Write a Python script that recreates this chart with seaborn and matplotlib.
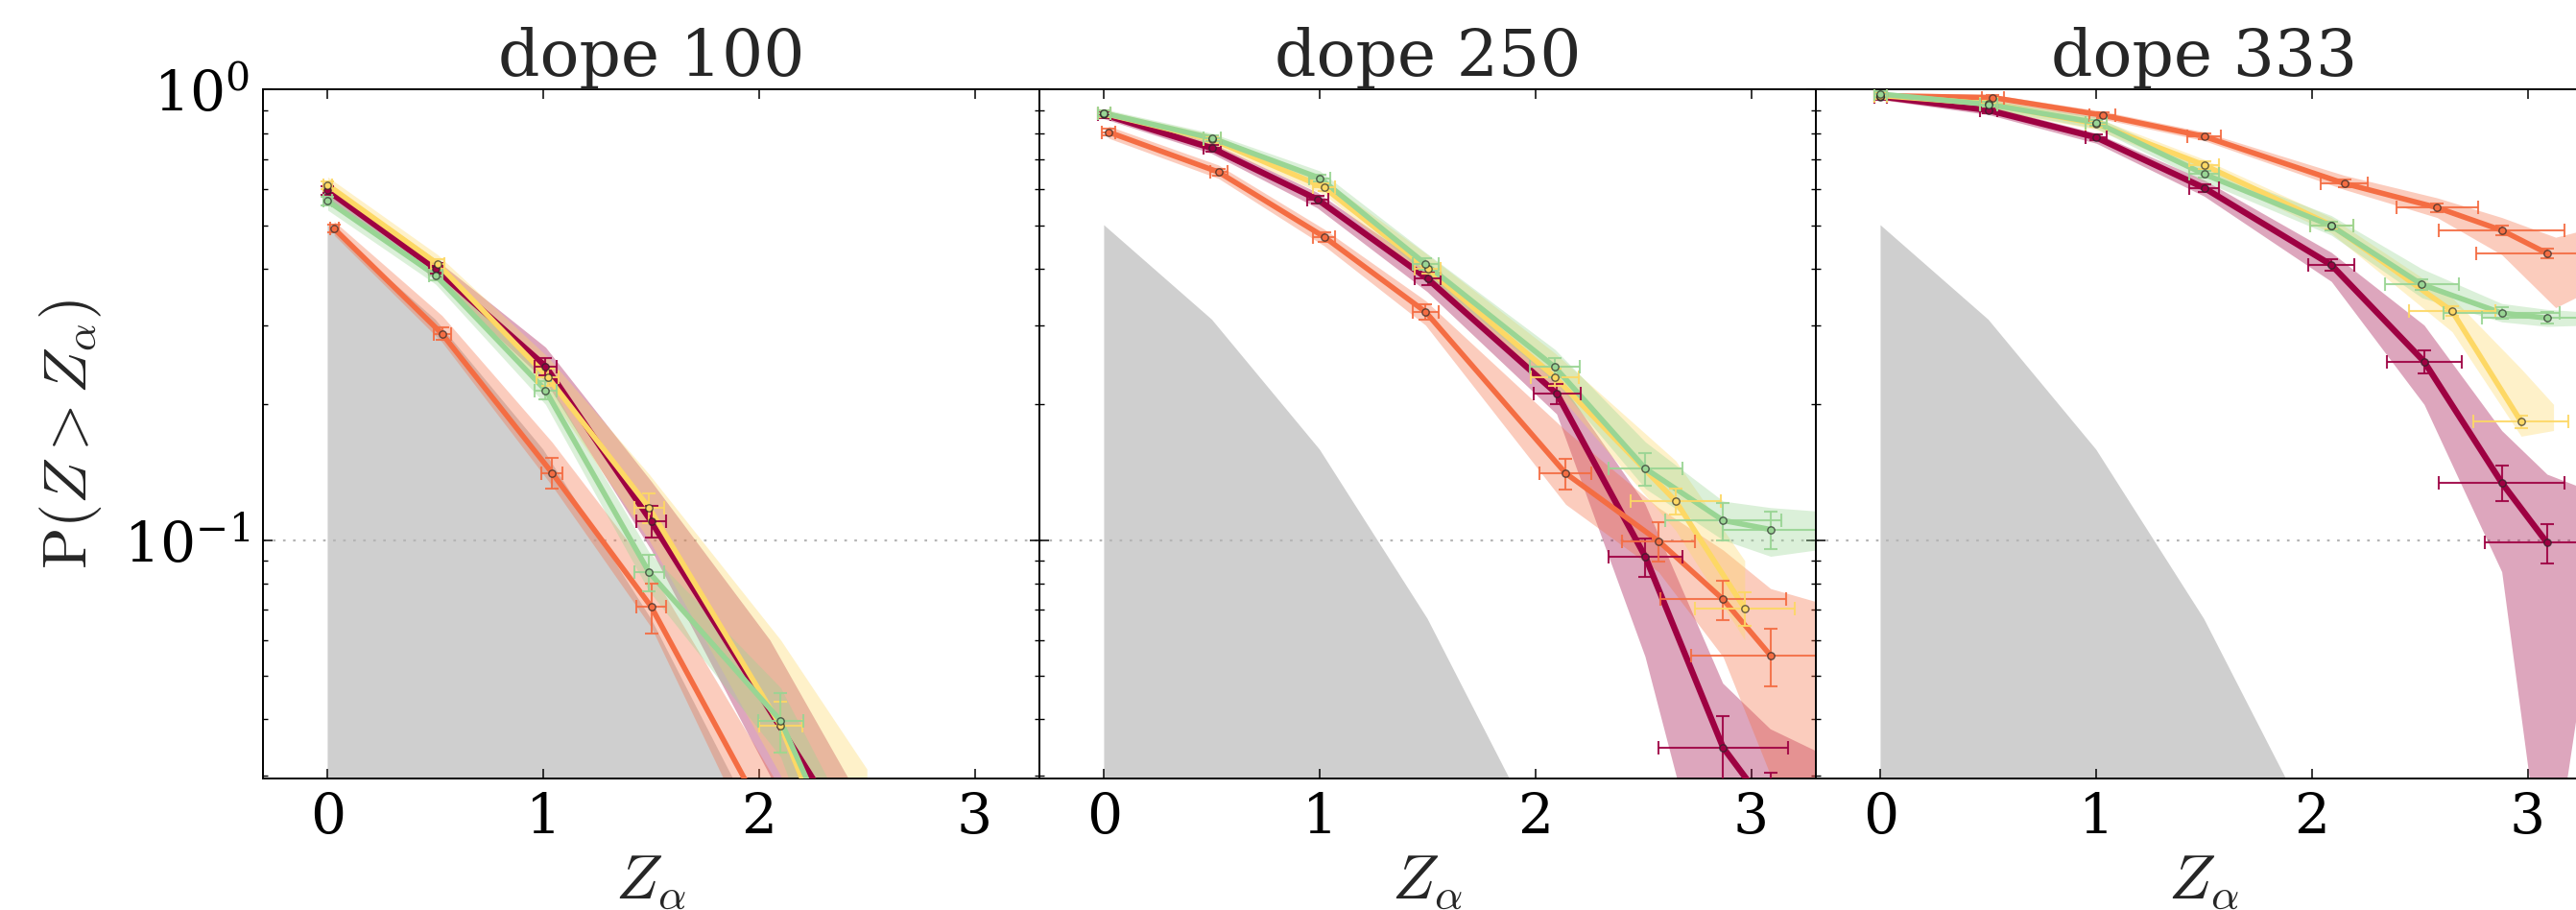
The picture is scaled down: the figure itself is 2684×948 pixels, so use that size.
import matplotlib
matplotlib.use("Agg")
import matplotlib.pyplot as plt
from matplotlib.ticker import NullFormatter, FixedLocator
import numpy as np
import pandas as pd
import seaborn as sns

# ---------------------------------------------------------------- data
PANEL_TITLES = ["dope 100", "dope 250", "dope 333"]
SERIES_COLORS = {"crimson": "#9e0142", "orange": "#f46d43",
                 "yellow": "#fdd865", "green": "#99d594"}

# standard-normal tail shown as the grey reference area
Z_NORMAL = [0.0, 0.5, 1.0, 1.5, 2.0, 2.5, 3.0]
P_NORMAL = [0.5, 0.3085, 0.1587, 0.0668, 0.0228, 0.0062, 0.00135]

# ---- dope 100
Z100_crimson = [0.00, 0.50, 1.01, 1.50, 2.50]
P100_crimson = [0.597, 0.400, 0.243, 0.110, 0.019]
ZE100_crimson = [0.02, 0.03, 0.05, 0.07, 0.15]
PE100_crimson = [0.012, 0.010, 0.011, 0.009, 0.004]
BZ100_crimson = [0.00, 0.50, 1.01, 1.50, 2.05, 2.50]
BLO100_crimson = [0.575, 0.380, 0.225, 0.095, 0.030, 0.008]
BHI100_crimson = [0.620, 0.420, 0.268, 0.135, 0.060, 0.025]

Z100_orange = [0.03, 0.53, 1.04, 1.50, 2.10]
P100_orange = [0.491, 0.287, 0.141, 0.0711, 0.021]
ZE100_orange = [0.02, 0.04, 0.05, 0.07, 0.10]
PE100_orange = [0.010, 0.009, 0.011, 0.009, 0.004]
BZ100_orange = [0.03, 0.53, 1.04, 1.50, 2.10]
BLO100_orange = [0.475, 0.275, 0.132, 0.064, 0.016]
BHI100_orange = [0.510, 0.315, 0.165, 0.085, 0.028]

Z100_yellow = [0.00, 0.51, 1.02, 1.49, 2.10, 2.50]
P100_yellow = [0.614, 0.410, 0.230, 0.118, 0.0387, 0.013]
ZE100_yellow = [0.02, 0.03, 0.05, 0.07, 0.10, 0.15]
PE100_yellow = [0.012, 0.010, 0.010, 0.009, 0.005, 0.003]
BZ100_yellow = [0.00, 0.51, 1.02, 1.49, 2.10, 2.50]
BLO100_yellow = [0.590, 0.390, 0.212, 0.100, 0.030, 0.008]
BHI100_yellow = [0.640, 0.430, 0.255, 0.140, 0.060, 0.031]

Z100_green = [0.00, 0.50, 1.01, 1.49, 2.10, 2.50]
P100_green = [0.566, 0.387, 0.215, 0.0848, 0.0397, 0.0148]
ZE100_green = [0.02, 0.03, 0.05, 0.07, 0.105, 0.15]
PE100_green = [0.012, 0.010, 0.010, 0.008, 0.006, 0.003]
BZ100_green = [0.00, 0.50, 1.01, 1.49, 2.10, 2.50]
BLO100_green = [0.540, 0.370, 0.200, 0.077, 0.033, 0.010]
BHI100_green = [0.590, 0.405, 0.230, 0.094, 0.047, 0.020]

# ---- dope 250
Z250_crimson = [0.00, 0.50, 0.99, 1.50, 2.10, 2.51, 2.87, 3.09]
P250_crimson = [0.880, 0.741, 0.570, 0.380, 0.211, 0.0916, 0.0346, 0.025]
ZE250_crimson = [0.03, 0.04, 0.05, 0.06, 0.11, 0.17, 0.30, 0.30]
PE250_crimson = [0.015, 0.012, 0.012, 0.012, 0.011, 0.009, 0.006, 0.0054]
BZ250_crimson = [0.00, 0.50, 0.99, 1.50, 2.10, 2.51, 2.87, 3.09, 3.30]
BLO250_crimson = [0.860, 0.720, 0.545, 0.355, 0.190, 0.055, 0.012, 0.008, 0.006]
BHI250_crimson = [0.900, 0.760, 0.590, 0.400, 0.230, 0.120, 0.048, 0.038, 0.034]

Z250_orange = [0.02, 0.53, 1.02, 1.49, 2.14, 2.57, 2.87, 3.09]
P250_orange = [0.805, 0.656, 0.471, 0.321, 0.1406, 0.0995, 0.0738, 0.0554]
ZE250_orange = [0.03, 0.04, 0.05, 0.06, 0.12, 0.17, 0.29, 0.37]
PE250_orange = [0.015, 0.012, 0.012, 0.012, 0.011, 0.010, 0.0075, 0.008]
BZ250_orange = [0.02, 0.53, 1.02, 1.49, 2.14, 2.57, 2.87, 3.09, 3.30]
BLO250_orange = [0.780, 0.635, 0.450, 0.300, 0.120, 0.085, 0.055, 0.030, 0.020]
BHI250_orange = [0.830, 0.680, 0.490, 0.340, 0.175, 0.118, 0.095, 0.078, 0.073]

Z250_yellow = [0.00, 0.50, 1.02, 1.50, 2.09, 2.65, 2.97]
P250_yellow = [0.885, 0.775, 0.606, 0.400, 0.230, 0.122, 0.0705]
ZE250_yellow = [0.03, 0.04, 0.05, 0.06, 0.11, 0.21, 0.23]
PE250_yellow = [0.015, 0.012, 0.012, 0.010, 0.010, 0.008, 0.006]
BZ250_yellow = [0.00, 0.50, 1.02, 1.50, 2.09, 2.65, 2.97]
BLO250_yellow = [0.870, 0.755, 0.585, 0.380, 0.215, 0.105, 0.060]
BHI250_yellow = [0.900, 0.795, 0.630, 0.430, 0.260, 0.150, 0.090]

Z250_green = [0.00, 0.50, 1.00, 1.49, 2.09, 2.51, 2.87, 3.09]
P250_green = [0.886, 0.780, 0.636, 0.410, 0.242, 0.144, 0.1105, 0.1055]
ZE250_green = [0.03, 0.04, 0.05, 0.06, 0.115, 0.17, 0.27, 0.22]
PE250_green = [0.015, 0.012, 0.012, 0.012, 0.012, 0.012, 0.0105, 0.010]
BZ250_green = [0.00, 0.50, 1.00, 1.49, 2.09, 2.51, 2.87, 3.09, 3.30]
BLO250_green = [0.870, 0.765, 0.615, 0.390, 0.225, 0.130, 0.100, 0.092, 0.095]
BHI250_green = [0.905, 0.800, 0.660, 0.435, 0.265, 0.165, 0.122, 0.118, 0.116]

# ---- dope 333
Z333_crimson = [0.00, 0.50, 1.00, 1.50, 2.09, 2.52, 2.88, 3.09]
P333_crimson = [0.965, 0.900, 0.783, 0.605, 0.408, 0.249, 0.134, 0.0986]
ZE333_crimson = [0.03, 0.04, 0.05, 0.07, 0.107, 0.173, 0.29, 0.29]
PE333_crimson = [0.015, 0.012, 0.012, 0.012, 0.012, 0.0146, 0.012, 0.0098]
BZ333_crimson = [0.00, 0.50, 1.00, 1.50, 2.09, 2.52, 2.88, 3.09, 3.30]
BLO333_crimson = [0.950, 0.880, 0.760, 0.580, 0.375, 0.200, 0.085, 0.015, 0.070]
BHI333_crimson = [0.980, 0.920, 0.800, 0.630, 0.435, 0.300, 0.175, 0.140, 0.128]

Z333_orange = [0.00, 0.52, 1.03, 1.50, 2.15, 2.58, 2.88, 3.09]
P333_orange = [0.969, 0.960, 0.877, 0.787, 0.619, 0.547, 0.487, 0.433]
ZE333_orange = [0.03, 0.05, 0.06, 0.08, 0.11, 0.19, 0.29, 0.33]
PE333_orange = [0.015, 0.012, 0.012, 0.012, 0.012, 0.012, 0.011, 0.010]
BZ333_orange = [0.00, 0.52, 1.03, 1.50, 2.15, 2.58, 2.88, 3.13, 3.35]
BLO333_orange = [0.950, 0.940, 0.860, 0.770, 0.600, 0.520, 0.430, 0.328, 0.370]
BHI333_orange = [0.985, 0.975, 0.895, 0.805, 0.645, 0.575, 0.520, 0.470, 0.500]

Z333_yellow = [0.00, 0.50, 1.00, 1.50, 2.09, 2.65, 2.97]
P333_yellow = [0.970, 0.930, 0.840, 0.680, 0.500, 0.322, 0.183]
ZE333_yellow = [0.03, 0.04, 0.05, 0.07, 0.10, 0.20, 0.22]
PE333_yellow = [0.015, 0.012, 0.012, 0.012, 0.010, 0.008, 0.006]
BZ333_yellow = [0.00, 0.50, 1.00, 1.50, 2.09, 2.65, 2.97, 3.12]
BLO333_yellow = [0.950, 0.905, 0.815, 0.655, 0.480, 0.290, 0.170, 0.175]
BHI333_yellow = [0.985, 0.950, 0.865, 0.700, 0.520, 0.345, 0.240, 0.200]

Z333_green = [0.00, 0.50, 1.00, 1.50, 2.09, 2.51, 2.88, 3.09]
P333_green = [0.977, 0.927, 0.845, 0.649, 0.498, 0.369, 0.319, 0.311]
ZE333_green = [0.03, 0.04, 0.05, 0.07, 0.10, 0.17, 0.27, 0.30]
PE333_green = [0.015, 0.012, 0.012, 0.012, 0.010, 0.010, 0.009, 0.009]
BZ333_green = [0.00, 0.50, 1.00, 1.50, 2.09, 2.51, 2.88, 3.09, 3.30]
BLO333_green = [0.960, 0.905, 0.820, 0.625, 0.475, 0.345, 0.305, 0.298, 0.300]
BHI333_green = [0.990, 0.950, 0.870, 0.675, 0.525, 0.400, 0.335, 0.325, 0.320]

X_TICKS = [0, 1, 2, 3]
X_LIMITS = (-0.3, 3.3)
Y_LIMITS = (0.0295, 1.0)

PANELS = [
    [("crimson", Z100_crimson, P100_crimson, ZE100_crimson, PE100_crimson, BZ100_crimson, BLO100_crimson, BHI100_crimson),
     ("orange", Z100_orange, P100_orange, ZE100_orange, PE100_orange, BZ100_orange, BLO100_orange, BHI100_orange),
     ("yellow", Z100_yellow, P100_yellow, ZE100_yellow, PE100_yellow, BZ100_yellow, BLO100_yellow, BHI100_yellow),
     ("green", Z100_green, P100_green, ZE100_green, PE100_green, BZ100_green, BLO100_green, BHI100_green)],
    [("crimson", Z250_crimson, P250_crimson, ZE250_crimson, PE250_crimson, BZ250_crimson, BLO250_crimson, BHI250_crimson),
     ("orange", Z250_orange, P250_orange, ZE250_orange, PE250_orange, BZ250_orange, BLO250_orange, BHI250_orange),
     ("yellow", Z250_yellow, P250_yellow, ZE250_yellow, PE250_yellow, BZ250_yellow, BLO250_yellow, BHI250_yellow),
     ("green", Z250_green, P250_green, ZE250_green, PE250_green, BZ250_green, BLO250_green, BHI250_green)],
    [("crimson", Z333_crimson, P333_crimson, ZE333_crimson, PE333_crimson, BZ333_crimson, BLO333_crimson, BHI333_crimson),
     ("orange", Z333_orange, P333_orange, ZE333_orange, PE333_orange, BZ333_orange, BLO333_orange, BHI333_orange),
     ("yellow", Z333_yellow, P333_yellow, ZE333_yellow, PE333_yellow, BZ333_yellow, BLO333_yellow, BHI333_yellow),
     ("green", Z333_green, P333_green, ZE333_green, PE333_green, BZ333_green, BLO333_green, BHI333_green)],
]

# ---------------------------------------------------------------- style
sns.set_style("ticks")
plt.rcParams.update({
    "font.family": ["DejaVu Serif"],
    "mathtext.fontset": "cm",
    "axes.linewidth": 1.4,
    "axes.edgecolor": "black",
    "xtick.direction": "in",
    "ytick.direction": "in",
    "xtick.top": True,
    "ytick.right": True,
    "xtick.major.size": 7,
    "ytick.major.size": 7,
    "ytick.minor.size": 3.5,
    "xtick.major.width": 1.1,
    "ytick.major.width": 1.1,
    "ytick.minor.width": 1.0,
    "xtick.color": "black",
    "ytick.color": "black",
})

W, H = 2684, 948
fig = plt.figure(figsize=(W / 100, H / 100), dpi=100)
fig.patch.set_facecolor("white")

ax_left_px = [274, 1083, 1892]
ax_w_px, ax_top_px, ax_bot_px = 809, 93.3, 811.3

for i, (title, series) in enumerate(zip(PANEL_TITLES, PANELS)):
    ax = fig.add_axes([ax_left_px[i] / W, (H - ax_bot_px) / H,
                       ax_w_px / W, (ax_bot_px - ax_top_px) / H])
    ax.set_facecolor("white")
    ax.set_yscale("log")
    ax.set_xlim(*X_LIMITS)
    ax.set_ylim(*Y_LIMITS)

    # grey Gaussian tail
    ax.fill_between(Z_NORMAL, 1e-4, P_NORMAL, color="#cfcfcf", lw=0, zorder=0)
    ax.axhline(0.1, color="#b5b5b5", ls=(0, (1.2, 3.5)), lw=1.6, zorder=0.5)

    for name, z, p, ze, pe, bz, blo, bhi in series:
        c = SERIES_COLORS[name]
        ax.fill_between(bz, blo, bhi, color=c, alpha=0.35, lw=0, zorder=1)
        df = pd.DataFrame({"z": z, "p": p})
        sns.lineplot(data=df, x="z", y="p", ax=ax, color=c, sort=False,
                     estimator=None, lw=4.6 if name == "crimson" else 4.0,
                     legend=False, zorder=3)
        ax.errorbar(z, p, xerr=ze, yerr=pe, fmt="none", ecolor=c,
                    elinewidth=1.5, capsize=5, capthick=1.5, alpha=0.9, zorder=4)
        sns.scatterplot(data=df, x="z", y="p", ax=ax, color=c, s=28,
                        edgecolor=(0.15, 0.15, 0.15, 0.7), linewidth=1.0,
                        legend=False, zorder=5)

    ax.set_xticks(X_TICKS)
    ax.set_xticklabels([str(t) for t in X_TICKS])
    ax.yaxis.set_major_locator(FixedLocator([0.1, 1.0]))
    ax.yaxis.set_minor_formatter(NullFormatter())
    ax.tick_params(axis="x", labelsize=42, pad=9)
    ax.tick_params(axis="y", which="major", labelsize=42, pad=10)
    ax.tick_params(axis="y", which="minor", length=3.5)
    ax.minorticks_on()
    ax.xaxis.set_minor_locator(FixedLocator([]))
    if i > 0:
        ax.tick_params(axis="y", which="both", labelleft=False)

    ax.set_title(title, fontsize=49, pad=7)
    ax.set_xlabel(r"$Z_{\alpha}$", fontsize=47)
    ax.xaxis.set_label_coords(0.5, -0.104)
    if i == 0:
        ax.set_ylabel(r"$\mathrm{P}(Z > Z_{\alpha})$", fontsize=46)
        ax.yaxis.set_label_coords(-0.205, 0.5)
    else:
        ax.set_ylabel("")
    for s in ax.spines.values():
        s.set_visible(True)
        s.set_linewidth(1.4)

fig.savefig("out.png", dpi=100, facecolor="white")
